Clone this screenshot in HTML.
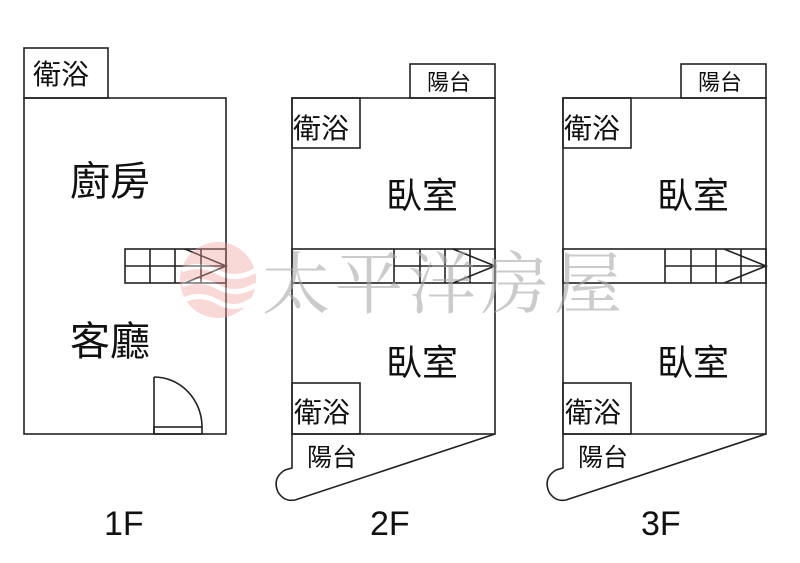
<!DOCTYPE html>
<html><head><meta charset="utf-8"><style>
html,body{margin:0;padding:0;background:#fff;}
svg{display:block;}
text{font-family:"Liberation Sans","Noto Sans CJK TC",sans-serif;fill:#111;}
</style></head><body>
<svg width="800" height="563" viewBox="0 0 800 563" xmlns="http://www.w3.org/2000/svg">
<g fill="none" stroke="#222" stroke-width="1.6">
<rect x="24" y="48" width="84" height="50"/>
<rect x="24" y="98" width="202" height="336"/>
<rect x="125" y="249" width="101" height="34"/>
<line x1="125" y1="266" x2="226" y2="266"/>
<line x1="150" y1="249" x2="150" y2="283"/>
<line x1="175" y1="249" x2="175" y2="283"/>
<line x1="201" y1="249" x2="201" y2="283"/>
<polyline points="185,249 226,266 185,283"/>
<line x1="154" y1="377" x2="154" y2="434"/>
<path d="M154,377 A48,50 0 0 1 202,427"/>
<rect x="154" y="427" width="48" height="7"/>
</g>
<g id="f2" fill="none" stroke="#222" stroke-width="1.6">
<rect x="292" y="98" width="203" height="336"/>
<rect x="410" y="64" width="85" height="34"/>
<rect x="292" y="98" width="68" height="50"/>
<rect x="292" y="383" width="68" height="51"/>
<rect x="292" y="249" width="203" height="34"/>
<line x1="394" y1="266" x2="495" y2="266"/>
<line x1="394" y1="249" x2="394" y2="283"/>
<line x1="420" y1="249" x2="420" y2="283"/>
<line x1="445" y1="249" x2="445" y2="283"/>
<line x1="470" y1="249" x2="470" y2="283"/>
<polyline points="453,249 495,266 453,283"/>
<path d="M292,434 L292,468 L285,470 Q272,478 278,492 Q284,502 295,500 L495,434"/>
</g>
<use href="#f2" transform="translate(271,0)"/>
<g opacity="0.4">
<circle cx="218" cy="280" r="38" fill="#f2a0a0"/>
<path d="M182,270 Q200,262 218,272 T256,270 M182,285 Q200,277 218,287 T256,285 M184,300 Q200,292 218,302 T252,300" stroke="#fff" stroke-width="5" fill="none"/>
</g>
<text x="262" y="308" font-size="68" style="font-family:'Noto Serif CJK SC',serif;fill:#aaa;opacity:.6" textLength="360">太平洋房屋</text>
<g font-size="28">
<text x="33" y="84">衛浴</text>
<text x="70" y="195" font-size="40">廚房</text>
<text x="70" y="355" font-size="40">客廳</text>
<text x="293" y="138">衛浴</text>
<text x="294" y="422">衛浴</text>
<text x="564" y="138">衛浴</text>
<text x="565" y="422">衛浴</text>
<text x="386" y="208" font-size="36">臥室</text>
<text x="386" y="375" font-size="36">臥室</text>
<text x="657" y="208" font-size="36">臥室</text>
<text x="657" y="375" font-size="36">臥室</text>
</g>
<g font-size="22">
<text x="427" y="90">陽台</text>
<text x="698" y="90">陽台</text>
<text x="307" y="466" font-size="25">陽台</text>
<text x="578" y="466" font-size="25">陽台</text>
</g>
<g font-size="34">
<text x="104" y="535">1F</text>
<text x="370" y="535">2F</text>
<text x="641" y="535">3F</text>
</g>
</svg>
</body></html>
